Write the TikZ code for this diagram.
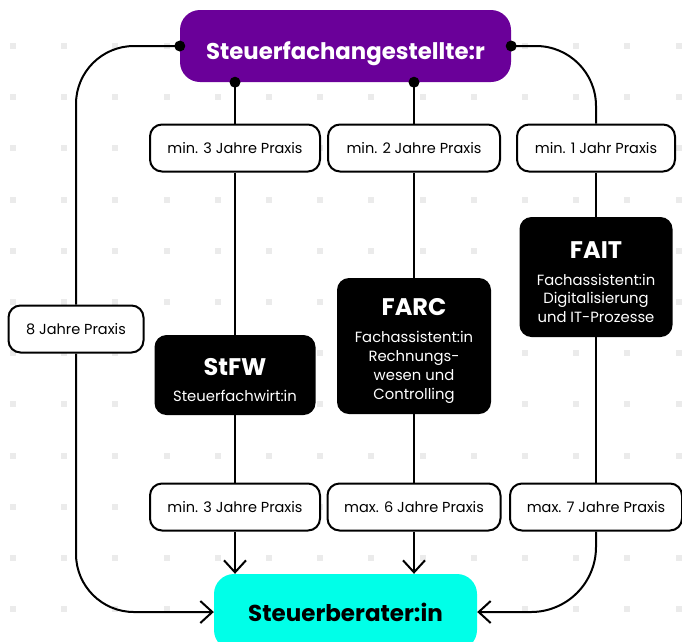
\documentclass[tikz,border=0pt]{standalone}
\usepackage{fontspec}
\setmainfont{Poppins}
\usetikzlibrary{arrows.meta}
\definecolor{sfapurple}{RGB}{106,0,153}
\definecolor{sbcyan}{RGB}{0,255,232}
\definecolor{dotgray}{RGB}{235,235,235}

\tikzset{
  praxis/.style={draw=black, line width=2pt, fill=white, rounded corners=12,
    minimum height=47, inner xsep=0pt, font=\fontsize{14.5}{17}\selectfont},
  quali/.style={fill=black, text=white, rounded corners=12, align=center,
    font=\fontsize{14.8}{18.8}\selectfont},
  pfad/.style={line width=2pt},
  spitze/.style={-{Straight Barb[length=12pt,width=22pt]}},
}
\newcommand{\qtitel}[1]{{\bfseries\fontsize{24}{26}\selectfont\rule{0pt}{27pt}#1}\\[8pt]}

\begin{document}
\begin{tikzpicture}[x=1pt,y=-1pt]
    \useasboundingbox (0,0) rectangle (682,641);

    % Punktraster
    \foreach \i in {0,...,13}
      \foreach \j in {0,...,11}
        \fill[dotgray] (13+51.2*\i-3,46+51.2*\j-3) rectangle ++(6,6);

    \node[fill=sfapurple, text=white, rounded corners=20, minimum width=331, minimum height=72,
      text height=27pt, text depth=0pt,
      font=\bfseries\fontsize{22.8}{26}\selectfont] (sfa) at (345.5,46) {Steuerfachangestellte:r};
    \node[fill=sbcyan, rounded corners=20, minimum width=263, minimum height=76,
      font=\bfseries\fontsize{23}{26}\selectfont] (sb) at (345.5,612) {Steuerberater:in};

    \node[quali, minimum width=161, minimum height=80] (stfw) at (235,375)
      {\qtitel{StFW}Steuerfachwirt:in};
    \node[quali, minimum width=154, minimum height=136] (farc) at (414,346)
      {\qtitel{FARC}Fachassistent:in\\Rechnungs-\\wesen und\\Controlling};
    \node[quali, minimum width=153, minimum height=120] (fait) at (596,277)
      {\qtitel{FAIT}Fachassistent:in\\Digitalisierung\\und IT-Prozesse};

    \node[praxis, minimum width=170] (p1) at (235,148) {min. 3 Jahre Praxis};
    \node[praxis, minimum width=172] (p2) at (414,148) {min. 2 Jahre Praxis};
    \node[praxis, minimum width=158] (p3) at (596,148) {min. 1 Jahr Praxis};
    \node[praxis, minimum width=135] (p4) at (76,329) {8 Jahre Praxis};
    \node[praxis, minimum width=170] (p5) at (235,507) {min. 3 Jahre Praxis};
    \node[praxis, minimum width=173] (p6) at (414,507) {max. 6 Jahre Praxis};
    \node[praxis, minimum width=172] (p7) at (596,507) {max. 7 Jahre Praxis};

    \begin{scope}[pfad]
      \draw (sfa.south -| p1) -- (p1.north);
      \draw (p1.south) -- (stfw.north);
      \draw (stfw.south) -- (p5.north);
      \draw[spitze] (p5.south) -- (sb.north -| p5);

      \draw (sfa.south -| p2) -- (p2.north);
      \draw (p2.south) -- (farc.north);
      \draw (farc.south) -- (p6.north);
      \draw[spitze] (p6.south) -- (sb.north -| p6);

      \draw[rounded corners=60] (sfa.east) -| (p3.north);
      \draw (p3.south) -- (fait.north);
      \draw (fait.south) -- (p7.north);
      \draw[spitze, rounded corners=65] (p7.south) |- (sb.east);

      \draw[rounded corners=58] (sfa.west) -| (p4.north);
      \draw[spitze, rounded corners=58] (p4.south) |- (sb.west);
    \end{scope}

    \fill (sfa.west) circle (5.5);
    \fill (sfa.east) circle (5.5);
    \fill (sfa.south -| p1) circle (5.5);
    \fill (sfa.south -| p2) circle (5.5);

    % \draw[help lines, step=50] (0,0) grid (682,641);
\end{tikzpicture}
\end{document}
